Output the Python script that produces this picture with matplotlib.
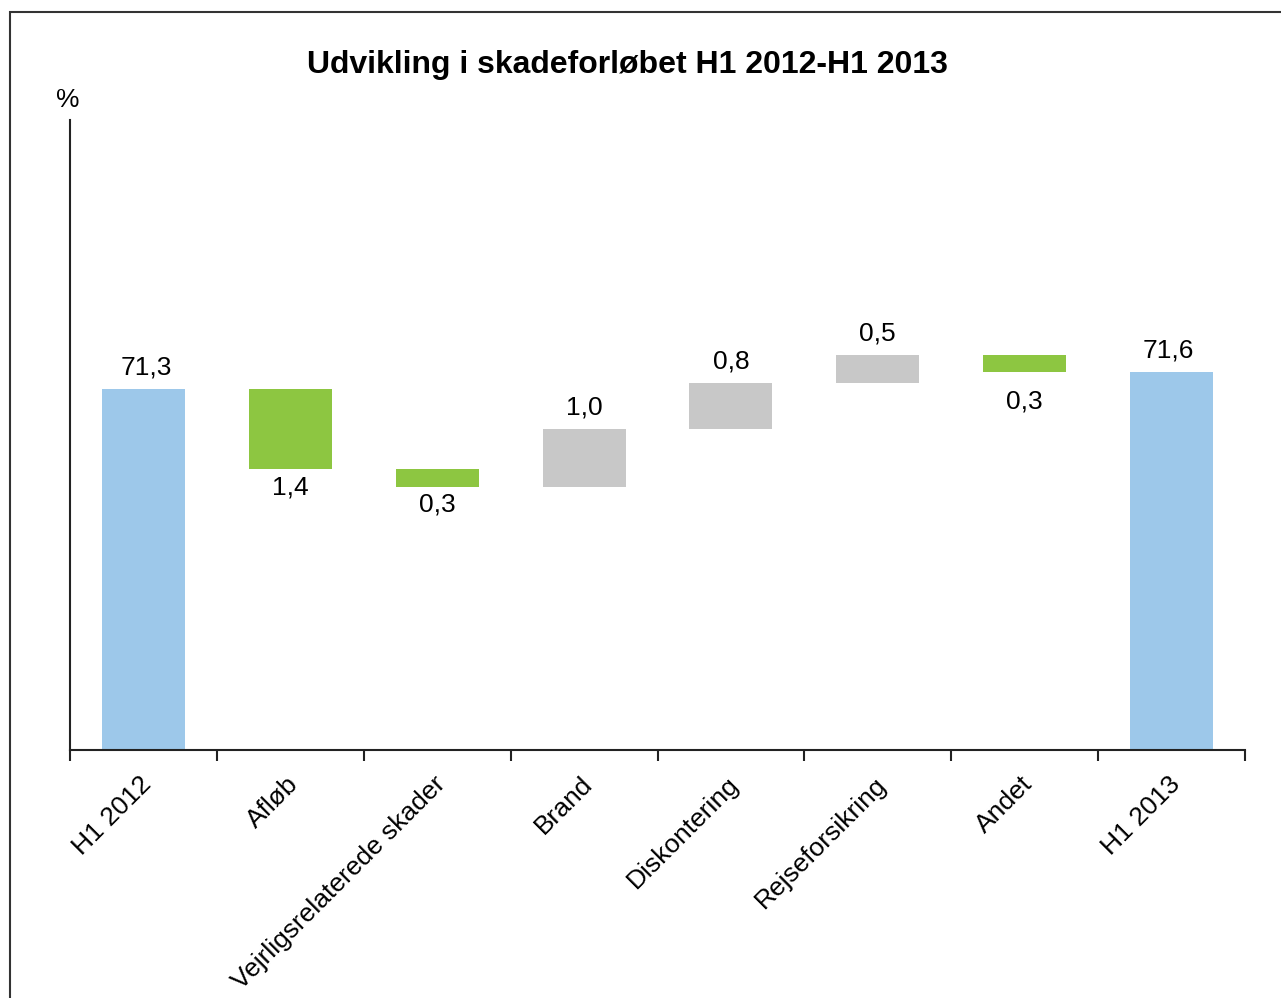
import matplotlib
matplotlib.use("Agg")
import matplotlib.pyplot as plt
import matplotlib.transforms as mtransforms
from matplotlib.patches import Rectangle

plt.rcParams['font.family'] = ['Liberation Sans', 'DejaVu Sans']

categories = ["H1 2012", "Afløb", "Vejrligsrelaterede skader", "Brand",
              "Diskontering", "Rejseforsikring", "Andet", "H1 2013"]
start_value = 71.3
changes = [-1.4, -0.3, 1.0, 0.8, 0.5, -0.3]
end_value = 71.6
labels = ["71,3", "1,4", "0,3", "1,0", "0,8", "0,5", "0,3", "71,6"]

col_total = "#9DC8EA"
col_down = "#8DC641"
col_up = "#C8C8C8"

# extra label gap (style only) per category
label_gap = [0.17, 0.1, 0.1, 0.17, 0.17, 0.17, 0.3, 0.17]

fig = plt.figure(figsize=(12.81, 9.98), dpi=100)
ax = fig.add_axes([70/1281, 1-750/998, (1245-70)/1281, (750-120)/998])
base = 65.0
ax.set_ylim(base, 76.0)
ax.set_xlim(-0.5, len(categories) - 0.5)
w = 0.565
fs = 19

ax.bar(0, start_value - base, bottom=base, width=w, color=col_total)
ax.text(0.02, start_value + label_gap[0], labels[0], ha='center', va='bottom', fontsize=fs)
level = start_value
for i, c in enumerate(changes, start=1):
    lo, hi = min(level, level + c), max(level, level + c)
    ax.bar(i, hi - lo, bottom=lo, width=w, color=col_down if c < 0 else col_up)
    if c < 0:
        ax.text(i, lo - label_gap[i], labels[i], ha='center', va='top', fontsize=fs)
    else:
        ax.text(i, hi + label_gap[i], labels[i], ha='center', va='bottom', fontsize=fs)
    level += c
n = len(categories) - 1
ax.bar(n, end_value - base, bottom=base, width=w, color=col_total)
ax.text(n - 0.02, end_value + label_gap[n], labels[n], ha='center', va='bottom', fontsize=fs)

for s in ['top', 'right']:
    ax.spines[s].set_visible(False)
for s in ['left', 'bottom']:
    ax.spines[s].set_linewidth(1.5)
    ax.spines[s].set_color('#222222')
ax.set_yticks([])
ax.set_xticks([i - 0.5 for i in range(len(categories) + 1)], minor=False)
ax.set_xticklabels([])
ax.set_xticks(range(len(categories)), minor=True)
ax.set_xticklabels(categories, minor=True, rotation=45, ha='right',
                   rotation_mode='anchor', fontsize=fs)
ax.tick_params(axis='x', which='major', direction='out', length=8, width=1.5, color='#222222')
ax.tick_params(axis='x', which='minor', length=0, pad=16)
offset = mtransforms.ScaledTranslation(-4/100, 0, fig.dpi_scale_trans)
for lab in ax.get_xticklabels(minor=True):
    lab.set_transform(lab.get_transform() + offset)

fig.text(68/1281, 1-100/998, "%", ha='center', va='center', fontsize=fs)
fig.text(627/1281, 1-65/998, "Udvikling i skadeforløbet H1 2012-H1 2013",
         ha='center', va='center', fontsize=23, fontweight='bold')

fig.patches.append(Rectangle((10/1281, -0.1), 1.2, 1 - 12/998 + 0.1,
                             transform=fig.transFigure, fill=False,
                             edgecolor='#333333', linewidth=1.5))

fig.savefig("out.png", dpi=100)
